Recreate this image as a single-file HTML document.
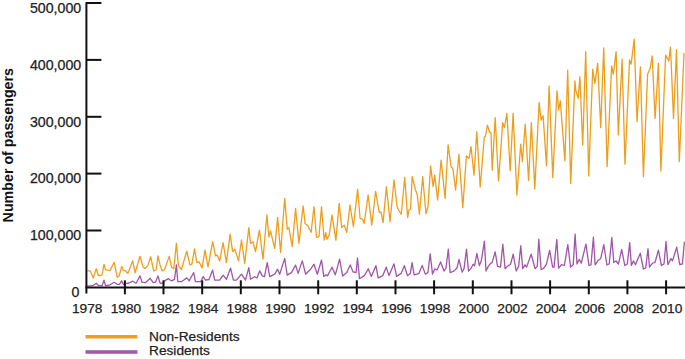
<!DOCTYPE html>
<html><head><meta charset="utf-8"><style>
html,body{margin:0;padding:0;background:#fff;}
body{width:685px;height:359px;overflow:hidden;}
svg{display:block;}
.t{font-family:"Liberation Sans",sans-serif;font-size:14px;fill:#222;stroke:#222;stroke-width:0.25px;}
.ty{font-size:14.2px;}
.tx{font-size:13.7px;}
.b{font-family:"Liberation Sans",sans-serif;font-size:14.25px;font-weight:bold;fill:#111;}
.l{font-family:"Liberation Sans",sans-serif;font-size:13.7px;fill:#222;stroke:#222;stroke-width:0.25px;}
</style></head><body>
<svg width="685" height="359" viewBox="0 0 685 359">
<polyline points="87.4,270.6 90.3,271.1 93.3,277.9 96.2,268.7 98.4,275.5 100.6,275.5 102.0,275.0 104.0,264.3 105.5,269.6 107.4,270.1 109.9,270.6 114.2,262.3 117.2,277.4 119.1,276.0 121.8,266.4 123.4,270.5 125.0,270.5 127.8,273.4 132.7,260.8 135.1,272.9 140.0,256.3 142.9,266.6 144.9,268.5 147.8,265.6 150.7,256.8 153.7,271.0 156.1,270.0 158.0,255.9 160.0,264.9 162.3,271.0 164.6,269.5 169.2,256.4 171.5,267.2 173.8,268.7 176.4,243.4 178.4,265.6 181.4,269.5 186.8,251.1 189.9,264.9 191.9,264.2 194.5,248.8 196.8,262.6 199.0,261.8 202.1,267.9 205.0,250.1 208.0,266.8 212.7,241.7 215.5,255.9 217.2,255.1 219.7,261.0 223.1,242.6 226.4,262.6 230.1,234.2 232.6,251.7 234.8,249.2 238.5,260.9 241.5,240.0 244.7,263.4 248.8,227.6 250.5,243.4 253.0,241.8 255.5,251.7 259.4,230.1 263.0,259.2 266.9,215.0 268.9,237.0 270.5,231.0 274.7,248.4 277.6,217.5 280.6,252.5 284.7,198.3 287.2,229.2 288.9,227.6 292.2,246.7 295.6,208.4 298.9,243.4 303.1,205.9 305.1,223.4 308.1,225.9 311.1,232.5 314.0,206.7 316.5,237.5 319.0,236.7 321.5,206.7 324.2,240.1 325.8,232.6 327.0,239.3 329.2,235.1 332.0,215.0 335.9,240.1 339.2,203.4 341.7,227.6 344.2,225.1 346.7,232.6 350.0,205.0 353.4,226.7 357.6,189.2 360.1,218.4 362.6,219.2 364.2,223.4 368.1,195.0 371.8,225.1 375.6,191.3 379.3,212.5 381.0,212.0 383.1,222.6 386.4,186.7 390.1,221.7 394.0,180.0 397.1,206.7 398.5,210.0 401.3,214.2 404.7,177.5 407.7,217.6 408.9,210.0 410.5,209.2 412.2,176.7 415.5,190.0 417.2,194.2 419.4,214.2 422.7,176.7 426.0,213.7 428.0,206.7 430.6,165.9 433.1,186.7 434.7,175.1 437.6,200.0 441.1,160.1 445.1,198.4 448.1,145.0 451.1,166.7 452.8,168.4 455.6,190.0 458.9,154.2 462.8,207.6 466.4,155.9 469.0,158.4 471.0,146.7 474.0,175.1 476.8,131.7 480.2,187.0 484.3,137.0 485.5,136.0 487.4,125.1 489.4,131.8 491.0,133.1 492.2,170.1 495.2,117.6 498.5,181.0 502.7,122.6 504.4,127.6 506.9,113.4 510.2,170.9 513.1,113.4 516.9,195.0 520.7,144.2 522.4,161.7 525.2,124.2 528.6,180.5 531.4,122.6 534.8,189.0 539.1,102.5 541.1,120.1 543.1,115.9 546.5,165.9 549.1,85.8 552.8,177.6 557.0,90.8 558.7,110.0 560.3,100.9 564.9,160.9 567.7,70.1 570.7,183.4 574.9,80.9 575.7,90.0 578.2,98.4 579.9,76.7 582.7,145.0 585.7,51.7 588.7,175.9 592.7,69.2 594.9,83.4 597.7,63.4 600.7,127.6 603.7,48.0 607.1,166.7 611.6,65.9 613.3,74.2 616.1,51.7 618.3,135.0 622.1,59.2 625.0,164.2 629.5,60.0 631.1,64.2 634.2,39.2 637.0,121.8 640.4,66.8 643.4,176.8 647.6,74.3 650.1,68.4 652.2,55.9 655.1,118.4 658.4,63.4 660.9,170.9 665.6,55.1 668.8,60.9 670.5,47.2 673.5,118.4 676.5,49.7 679.3,161.7 684.0,53.0" fill="none" stroke="#EE9E1C" stroke-width="1.3" stroke-linejoin="round"/>
<polyline points="86.8,286.2 92.8,285.7 96.2,283.3 98.6,285.7 102.0,285.7 104.0,280.2 105.5,285.7 109.4,285.2 114.2,282.3 117.2,284.3 119.5,284.3 121.6,280.9 123.5,284.5 125.9,283.7 129.0,283.0 132.7,281.2 136.1,283.2 140.0,275.9 142.0,282.2 145.4,282.7 150.2,278.3 153.2,282.7 155.5,282.2 158.0,275.9 160.0,283.0 162.3,283.4 164.6,280.9 168.4,278.6 171.5,280.9 174.5,279.4 176.4,264.9 177.8,281.7 181.4,281.7 186.8,277.9 189.1,280.9 193.7,272.5 195.4,281.7 200.6,281.7 203.2,276.5 205.5,280.2 209.0,279.5 212.6,270.1 214.7,280.2 219.7,280.2 223.1,275.2 226.4,279.3 230.6,268.1 233.4,280.1 236.4,280.2 241.5,274.2 245.5,280.1 248.8,267.6 250.5,279.2 254.7,276.7 257.0,278.0 259.7,270.9 262.2,275.9 264.5,276.7 267.2,262.6 269.7,276.7 274.7,274.2 277.6,269.2 279.7,274.2 284.7,258.4 287.2,275.1 291.4,272.6 295.6,265.1 298.1,273.4 302.3,260.9 305.6,274.2 310.6,269.2 314.0,264.2 317.3,274.2 321.5,260.0 323.8,276.4 326.1,274.8 327.5,275.9 332.0,267.2 335.3,274.8 339.6,259.2 342.7,276.1 346.8,272.5 350.2,264.9 353.0,271.8 356.0,272.5 357.5,258.0 359.5,278.7 364.4,275.6 368.3,268.7 371.3,276.4 375.9,265.7 378.2,277.9 382.8,275.6 386.2,267.2 389.0,275.6 394.0,263.8 396.6,276.4 400.0,274.1 401.1,273.4 404.4,265.7 407.5,275.7 410.3,273.4 412.1,262.7 414.1,274.9 418.7,273.7 422.2,265.4 425.3,274.1 427.9,272.6 430.2,253.8 432.5,274.1 434.8,268.8 437.0,270.0 440.6,261.9 444.0,271.1 446.0,268.0 448.3,249.2 450.1,272.6 453.9,271.1 457.0,268.0 459.0,259.3 462.1,272.2 464.0,268.8 466.5,249.2 468.5,271.1 470.8,268.8 473.1,264.2 474.6,265.7 476.9,253.5 479.4,265.6 481.4,260.2 484.4,241.1 486.0,271.0 488.3,266.4 490.6,263.3 492.1,262.6 495.2,251.8 497.5,266.4 500.5,267.1 502.8,244.2 505.1,268.7 508.2,265.6 510.5,264.5 513.2,254.1 516.2,271.0 518.6,266.4 520.8,245.7 522.7,268.7 525.0,264.8 526.6,267.1 531.2,254.1 535.0,268.7 537.3,266.4 538.8,239.1 541.1,269.4 543.4,268.7 546.5,264.1 549.6,250.3 552.6,267.1 554.0,267.1 556.8,239.5 558.6,268.2 561.7,264.5 564.4,265.5 567.8,244.6 570.6,267.1 573.2,264.8 575.1,234.1 577.0,264.0 579.3,259.4 581.3,263.2 585.9,244.1 589.0,265.5 591.0,264.8 593.4,237.2 595.1,264.8 598.4,260.2 600.7,258.7 603.8,244.6 606.9,264.8 609.2,264.0 611.8,237.5 613.8,262.5 616.1,261.0 618.4,264.0 621.7,249.5 624.8,265.5 627.3,264.0 629.7,242.6 631.4,265.5 633.4,260.9 635.4,264.7 640.3,253.3 643.4,269.0 645.7,267.8 648.0,248.7 649.5,267.0 652.6,263.2 655.0,262.5 658.4,250.2 661.4,265.5 664.0,264.0 666.0,241.5 667.9,264.7 670.9,258.6 672.5,260.9 676.7,247.1 679.8,264.7 682.4,264.0 684.4,241.8" fill="none" stroke="#A055A8" stroke-width="1.3" stroke-linejoin="round"/>
<path d="M86.4,293.6 V3.1 H101.4" stroke="#111" stroke-width="2" fill="none" stroke-linejoin="round"/>
<path d="M86.4,59.9 H101.4" stroke="#111" stroke-width="2"/>
<path d="M86.4,116.8 H101.4" stroke="#111" stroke-width="2"/>
<path d="M86.4,173.6 H101.4" stroke="#111" stroke-width="2"/>
<path d="M86.4,230.5 H101.4" stroke="#111" stroke-width="2"/>
<path d="M85.4,287.5 H685" stroke="#111" stroke-width="2"/>
<path d="M124.9,280.3 V294.3" stroke="#111" stroke-width="2"/>
<path d="M163.5,280.3 V294.3" stroke="#111" stroke-width="2"/>
<path d="M202.2,280.3 V294.3" stroke="#111" stroke-width="2"/>
<path d="M240.8,280.3 V294.3" stroke="#111" stroke-width="2"/>
<path d="M279.5,280.3 V294.3" stroke="#111" stroke-width="2"/>
<path d="M318.2,280.3 V294.3" stroke="#111" stroke-width="2"/>
<path d="M356.8,280.3 V294.3" stroke="#111" stroke-width="2"/>
<path d="M395.5,280.3 V294.3" stroke="#111" stroke-width="2"/>
<path d="M434.1,280.3 V294.3" stroke="#111" stroke-width="2"/>
<path d="M472.8,280.3 V294.3" stroke="#111" stroke-width="2"/>
<path d="M511.5,280.3 V294.3" stroke="#111" stroke-width="2"/>
<path d="M550.1,280.3 V294.3" stroke="#111" stroke-width="2"/>
<path d="M588.8,280.3 V294.3" stroke="#111" stroke-width="2"/>
<path d="M627.4,280.3 V294.3" stroke="#111" stroke-width="2"/>
<path d="M666.1,280.3 V294.3" stroke="#111" stroke-width="2"/>
<text x="81.2" y="12.8" text-anchor="end" class="t ty">500,000</text>
<text x="81.2" y="69.6" text-anchor="end" class="t ty">400,000</text>
<text x="81.2" y="126.5" text-anchor="end" class="t ty">300,000</text>
<text x="81.2" y="183.3" text-anchor="end" class="t ty">200,000</text>
<text x="81.2" y="240.2" text-anchor="end" class="t ty">100,000</text>
<text x="79.3" y="297.0" text-anchor="end" class="t ty">0</text>
<text x="87.2" y="313.2" text-anchor="middle" class="t tx">1978</text>
<text x="125.9" y="313.2" text-anchor="middle" class="t tx">1980</text>
<text x="164.5" y="313.2" text-anchor="middle" class="t tx">1982</text>
<text x="203.2" y="313.2" text-anchor="middle" class="t tx">1984</text>
<text x="241.8" y="313.2" text-anchor="middle" class="t tx">1988</text>
<text x="280.5" y="313.2" text-anchor="middle" class="t tx">1990</text>
<text x="319.2" y="313.2" text-anchor="middle" class="t tx">1992</text>
<text x="357.8" y="313.2" text-anchor="middle" class="t tx">1994</text>
<text x="396.5" y="313.2" text-anchor="middle" class="t tx">1996</text>
<text x="435.1" y="313.2" text-anchor="middle" class="t tx">1998</text>
<text x="473.8" y="313.2" text-anchor="middle" class="t tx">2000</text>
<text x="512.5" y="313.2" text-anchor="middle" class="t tx">2002</text>
<text x="551.1" y="313.2" text-anchor="middle" class="t tx">2004</text>
<text x="589.8" y="313.2" text-anchor="middle" class="t tx">2006</text>
<text x="628.4" y="313.2" text-anchor="middle" class="t tx">2008</text>
<text x="667.1" y="313.2" text-anchor="middle" class="t tx">2010</text>
<text transform="translate(13.3,145.2) rotate(-90)" text-anchor="middle" class="b">Number of passengers</text>
<path d="M85.5,336.8 H137.4" stroke="#EE9E1C" stroke-width="3.5"/>
<path d="M85.5,351.9 H137.4" stroke="#A055A8" stroke-width="3.5"/>
<text x="149" y="340.7" class="l">Non-Residents</text>
<text x="149" y="354.6" class="l">Residents</text>
</svg>
</body></html>
